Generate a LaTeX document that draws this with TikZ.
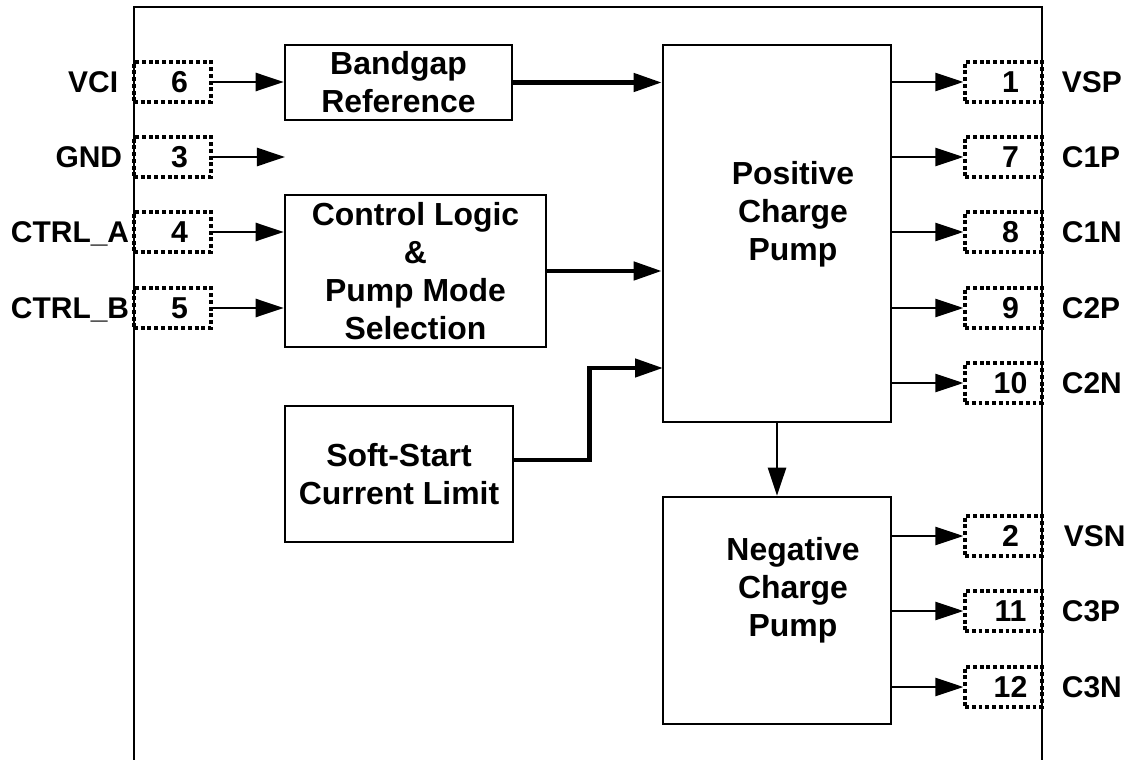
\documentclass[tikz,border=0pt]{standalone}
\usepackage{fontspec}
\setmainfont{Liberation Sans}
\usepackage{tikz}
\usetikzlibrary{arrows.meta, positioning}

\tikzset{
    blockbox/.style={draw, line width=1.8pt, inner sep=0pt, align=center,
        font=\bfseries\fontsize{22.7pt}{27pt}\selectfont},
    blocktext/.style={inner sep=0pt, align=center,
        font=\bfseries\fontsize{22.7pt}{27pt}\selectfont},
    pinbox/.style={draw, line width=2.3pt, dash pattern=on 2.8pt off 2pt,
        minimum width=1.925cm, minimum height=1cm, inner sep=0pt,
        font=\bfseries\fontsize{21.5pt}{25pt}\selectfont,
        execute at begin node={\hspace{0.35cm}}},
    pinlabel/.style={inner sep=0pt, text height=15.3pt, text depth=0pt,
        font=\bfseries\fontsize{21.3pt}{25pt}\selectfont},
    sig/.style={->, line width=1.8pt},
    bus/.style={->, line width=3.2pt}
}

\begin{document}
\begin{tikzpicture}[x=0.025cm, y=-0.025cm, >={Triangle[length=0.7cm, width=0.45cm]}]
    % --- Khung chip ---
    \useasboundingbox (0,0) rectangle (1136,760);
    \draw[line width=1.8pt] (134,765) -- (134,7) -- (1042,7) -- (1042,765);

    % Các khối chức năng
    \node[blockbox, minimum width=5.675cm, minimum height=1.875cm] (bandgap) at (398.5,82.5) {Bandgap\\Reference};
    \node[blockbox, minimum width=6.525cm, minimum height=3.8cm] (logic) at (415.5,271) {Control Logic\\\&\\Pump Mode\\Selection};
    \node[blockbox, minimum width=5.7cm, minimum height=3.4cm] (softstart) at (399,474) {Soft-Start\\Current Limit};
    \node[blockbox, minimum width=5.7cm, minimum height=9.425cm] (pospump) at (777,233.5) {};
    \node[blocktext] (postext) at (793,214) {Positive\\Charge\\Pump};
    \node[blockbox, minimum width=5.7cm, minimum height=5.675cm] (negpump) at (777,610.5) {};
    \node[blocktext] (negtext) at (793,590) {Negative\\Charge\\Pump};

    % Chân bên trái
    \node[pinbox] (p6) at (172.5,82) {6};
    \node[pinbox] (p3) at (172.5,157) {3};
    \node[pinbox] (p4) at (172.5,232) {4};
    \node[pinbox] (p5) at (172.5,308) {5};
    \node[pinlabel, left=0.35cm of p6] (vci) {VCI};
    \node[pinlabel, left=0.25cm of p3] (gnd) {GND};
    \node[pinlabel, left=0.075cm of p4] (ctrla) {CTRL\_A};
    \node[pinlabel, left=0.075cm of p5] (ctrlb) {CTRL\_B};

    % Chân bên phải
    \node[pinbox] (p1) at (1003.5,82) {1};
    \node[pinbox] (p7) at (1003.5,157) {7};
    \node[pinbox] (p8) at (1003.5,232) {8};
    \node[pinbox] (p9) at (1003.5,308) {9};
    \node[pinbox] (p10) at (1003.5,383) {10};
    \node[pinbox] (p2) at (1003.5,536) {2};
    \node[pinbox] (p11) at (1003.5,611) {11};
    \node[pinbox] (p12) at (1003.5,687) {12};
    \node[pinlabel, right=0.45cm of p1] (vsp) {VSP};
    \node[pinlabel, right=0.45cm of p7] (c1p) {C1P};
    \node[pinlabel, right=0.45cm of p8] (c1n) {C1N};
    \node[pinlabel, right=0.45cm of p9] (c2p) {C2P};
    \node[pinlabel, right=0.45cm of p10] (c2n) {C2N};
    \node[pinlabel, right=0.5cm of p2] (vsn) {VSN};
    \node[pinlabel, right=0.45cm of p11] (c3p) {C3P};
    \node[pinlabel, right=0.45cm of p12] (c3n) {C3N};

    % Mũi tên vào
    \coordinate (gndend) at (285,157);
    \draw[sig] (p6.east) -- (p6.east -| bandgap.west);
    \draw[sig] (p3.east) -- (gndend);
    \draw[sig] (p4.east) -- (p4.east -| logic.west);
    \draw[sig] (p5.east) -- (p5.east -| logic.west);

    % Đường tín hiệu đậm vào bơm dương
    \coordinate (ssin) at (663,368);
    \draw[bus] (bandgap.east) -- (bandgap.east -| pospump.west);
    \draw[bus] (logic.east) -- (logic.east -| pospump.west);
    \draw[bus] ([yshift=0.35cm]softstart.east) -- ++(75,0) |- (ssin);
    \draw[sig] (pospump.south) -- (negpump.north);

    % Mũi tên ra
    \draw[sig] (p1.west -| pospump.east) -- (p1.west);
    \draw[sig] (p7.west -| pospump.east) -- (p7.west);
    \draw[sig] (p8.west -| pospump.east) -- (p8.west);
    \draw[sig] (p9.west -| pospump.east) -- (p9.west);
    \draw[sig] (p10.west -| pospump.east) -- (p10.west);
    \draw[sig] (p2.west -| negpump.east) -- (p2.west);
    \draw[sig] (p11.west -| negpump.east) -- (p11.west);
    \draw[sig] (p12.west -| negpump.east) -- (p12.west);
\end{tikzpicture}
\end{document}
